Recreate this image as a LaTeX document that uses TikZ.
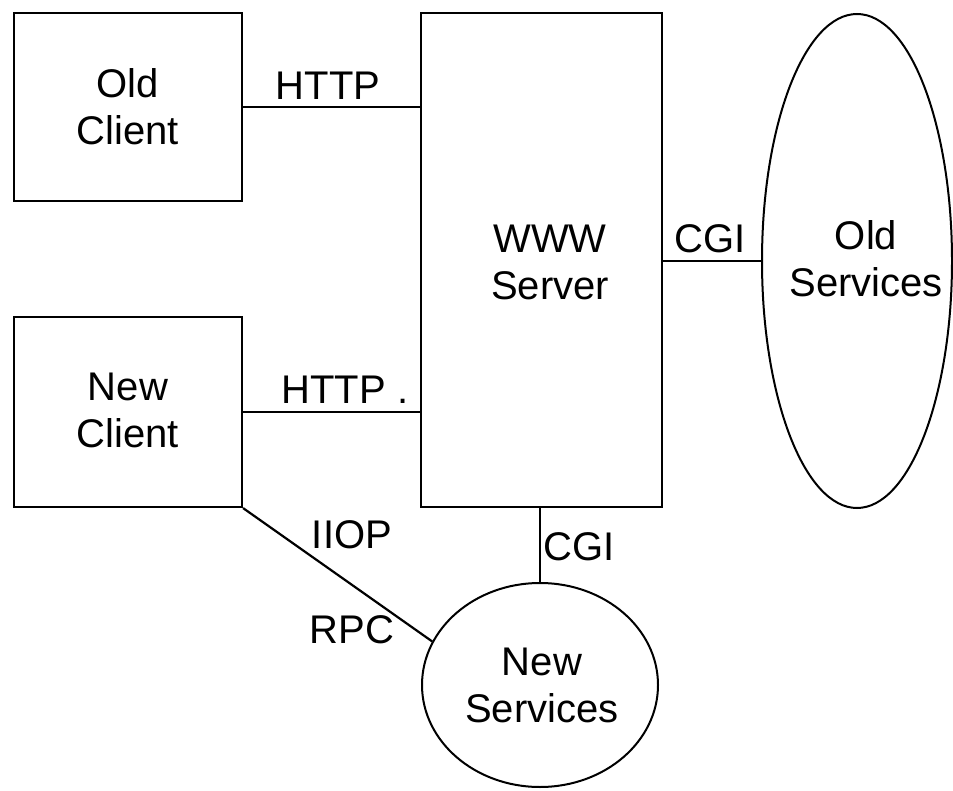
\documentclass[tikz,border=0pt]{standalone}
\usepackage{fontspec}
\setmainfont{Liberation Sans}
\usetikzlibrary{shapes.geometric}
\begin{document}
\begin{tikzpicture}[x=1pt,y=-1pt,
  every node/.style={font=\fontsize{40}{47}\selectfont, align=center, inner sep=0pt},
  boxnode/.style={draw, line width=2.2pt, rectangle},
  ellnode/.style={draw, line width=2pt, ellipse},
  conn/.style={line width=2.2pt},
  lbl/.style={}]
\useasboundingbox (0,0) rectangle (953,791);
% boxes
\node[boxnode, minimum width=228pt, minimum height=188pt] (oc) at (128,107) {};
\node[boxnode, minimum width=228pt, minimum height=190pt] (nc) at (128,412) {};
\node[boxnode, minimum width=241pt, minimum height=494pt] (srv) at (541.5,260) {};
\node[ellnode, minimum width=190pt, minimum height=494pt] (os) at (857,261) {};
\node[ellnode, minimum width=236pt, minimum height=204pt] (ns) at (540,685) {};
% texts
\node (oct) at (128,107) {Old\\Client};
\node (nct) at (128,410) {New\\Client};
\node (srvt) at (550,262) {WWW\\Server};
\node (ost) at (866,259) {Old\\Services};
\node (nst) at (542,685) {New\\Services};
% connectors
\draw[conn] (oc.east) -- (oc.east -| srv.west);
\draw[conn] (nc.east) -- (nc.east -| srv.west);
\draw[conn] (srv.east |- os.west) -- (os.west);
\draw[conn] (ns.north) -- (ns.north |- srv.south);
\draw[conn] (nc.south east) -- (ns.158);
% labels
\node[lbl] (l1) at (328,86) {HTTP};
\node[lbl] (l2) at (345,390) {HTTP .};
\node[lbl] (l3) at (710,239) {CGI};
\node[lbl] (l4) at (579,547) {CGI};
\node[lbl] (l5) at (352,535) {IIOP};
\node[lbl] (l6) at (352,630) {RPC};
\end{tikzpicture}
\end{document}
